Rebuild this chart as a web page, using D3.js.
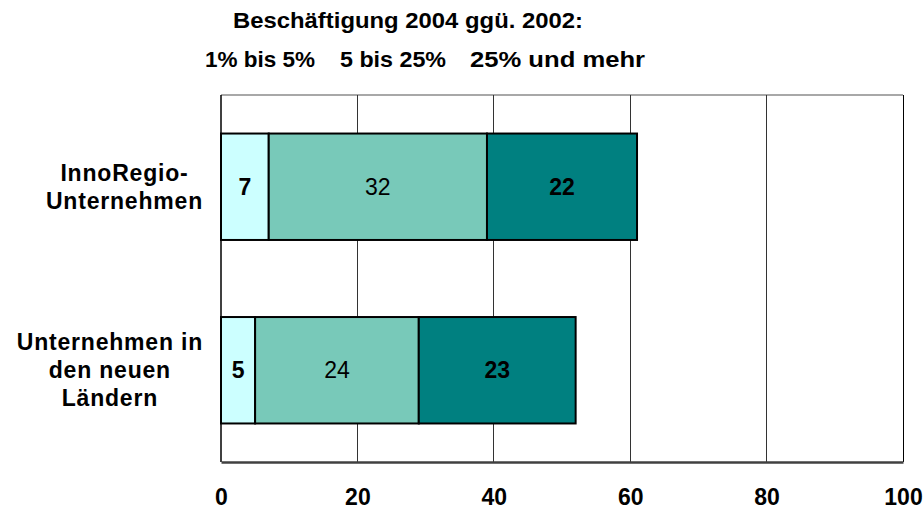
<!DOCTYPE html>
<html>
<head>
<meta charset="utf-8">
<script src="https://cdn.jsdelivr.net/npm/d3@7"></script>
<style>
  html, body { margin: 0; padding: 0; background: #fff; }
  svg { display: block; font-family: "Liberation Sans", Arial, sans-serif; }
</style>
</head>
<body>
<svg id="chart" width="924" height="510"></svg>
<script>
const titleText = "Beschäftigung 2004 ggü. 2002:";
const categories = ["InnoRegio-\nUnternehmen", "Unternehmen in\nden neuen\nLändern"];
const seriesNames = ["1% bis 5%", "5 bis 25%", "25% und mehr"];
const seriesSmall = [7, 5];
const seriesMid = [32, 24];
const seriesLarge = [22, 23];
const tickValues = [0, 20, 40, 60, 80, 100];
const seriesColors = ["#CCFFFF", "#78C9B9", "#008080"];
const labelBold = [true, false, true];

const svg = d3.select("#chart");
const x0 = 221, x1 = 903, y0 = 95, y1 = 462;

const x = d3.scaleLinear().domain([0, 100]).range([x0, x1]);
const y = d3.scaleBand().domain(categories).range([y0, y1]).paddingInner(0.42).paddingOuter(0.21);

const seriesValues = [seriesSmall, seriesMid, seriesLarge];
const rows = categories.map((c, i) => {
  const obj = { cat: c };
  seriesNames.forEach((s, j) => obj[s] = seriesValues[j][i]);
  return obj;
});
const stack = d3.stack().keys(seriesNames)(rows);

// top border
svg.append("line").attr("x1", x0).attr("x2", x1).attr("y1", y0).attr("y2", y0)
  .attr("stroke", "#a8a8a8").attr("stroke-width", 2);

// gridlines
svg.append("g").selectAll("line").data(tickValues.filter(v => v > 0)).join("line")
  .attr("x1", d => x(d)).attr("x2", d => x(d)).attr("y1", y0).attr("y2", y1)
  .attr("stroke", d => d === 100 ? "#000" : "#333").attr("stroke-width", 1)
  .attr("shape-rendering", "crispEdges");

// left axis line
svg.append("line").attr("x1", x0).attr("x2", x0).attr("y1", y0).attr("y2", y1)
  .attr("stroke", "#000").attr("stroke-width", 1.5);

// bars
const gBars = svg.append("g");
stack.forEach((layer, j) => {
  gBars.selectAll(null).data(layer).join("rect")
    .attr("x", d => x(d[0]))
    .attr("width", d => x(d[1]) - x(d[0]))
    .attr("y", d => y(d.data.cat))
    .attr("height", y.bandwidth())
    .attr("fill", seriesColors[j])
    .attr("stroke", "#000").attr("stroke-width", 2);
});
stack.forEach((layer, j) => {
  gBars.selectAll(null).data(layer).join("text")
    .attr("x", d => (x(d[0]) + x(d[1])) / 2)
    .attr("y", d => y(d.data.cat) + y.bandwidth() / 2 + 8)
    .attr("text-anchor", "middle")
    .attr("font-size", 23)
    .attr("font-weight", labelBold[j] ? "bold" : "normal")
    .attr("fill", "#000")
    .text(d => d[1] - d[0]);
});

// bottom axis
const xAxis = d3.axisBottom(x).tickValues(tickValues).tickSize(0).tickPadding(0).tickFormat(d3.format("d"));
const gx = svg.append("g").attr("transform", `translate(0,${y1})`).call(xAxis);
gx.select(".domain").attr("stroke", "#404040").attr("stroke-width", 2.5);
gx.selectAll("text").attr("font-size", 23).attr("font-weight", "bold").attr("fill", "#000")
  .attr("font-family", "Liberation Sans, Arial, sans-serif")
  .attr("dy", null).attr("y", 43);

// category labels
const gy = svg.append("g");
categories.forEach(c => {
  const lines = c.split("\n");
  const lh = 28;
  const cy = y(c) + y.bandwidth() / 2;
  const t = gy.append("text").attr("font-size", 23).attr("font-weight", "bold")
    .attr("letter-spacing", 0.8).attr("text-anchor", "middle");
  lines.forEach((l, k) => {
    t.append("tspan").attr("x", 0).attr("y", cy + (k - (lines.length - 1) / 2) * lh + 8).text(l);
  });
  const w = t.node().getBBox().width;
  t.attr("transform", `translate(${203 - w / 2},0)`);
});

// title and legend text
svg.append("text").attr("x", 233).attr("y", 28)
  .attr("font-size", 22).attr("font-weight", "bold")
  .attr("textLength", 350).attr("lengthAdjust", "spacingAndGlyphs").text(titleText);
const legendX = [205, 340, 470];
const legendW = [110, 106, 175];
svg.append("g").selectAll("text").data(seriesNames).join("text")
  .attr("x", (d, i) => legendX[i]).attr("y", 67)
  .attr("font-size", 22).attr("font-weight", "bold")
  .attr("textLength", (d, i) => legendW[i]).attr("lengthAdjust", "spacingAndGlyphs")
  .text(d => d);
</script>
</body>
</html>
